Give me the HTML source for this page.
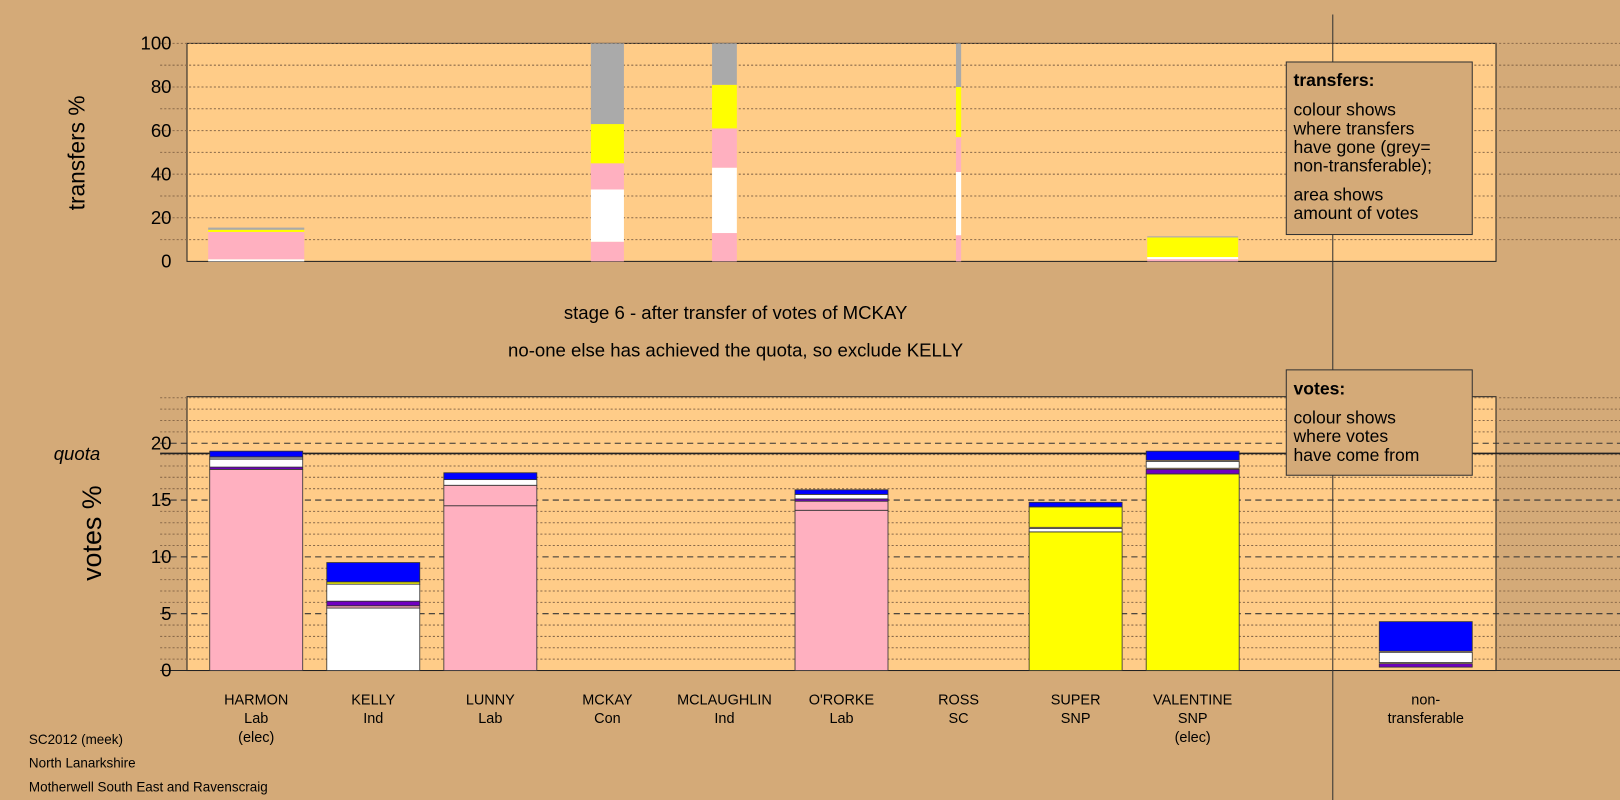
<!DOCTYPE html>
<html><head><meta charset="utf-8"><style>
body{margin:0;background:#d4aa78;}
svg{display:block;font-family:"Liberation Sans",sans-serif;}
</style></head><body>
<svg id="c" width="1620" height="800" viewBox="0 0 1620 800">
<rect x="0" y="0" width="1620" height="800" fill="#d4aa78"/>
<g transform="scale(1.03316)">
<rect x="181" y="42" width="1267" height="211" fill="#ffcc88" stroke="#222"/>
<rect x="181" y="384" width="1267" height="265" fill="#ffcc88" stroke="#222"/>
<g id="grid"></g>
<g id="bars"></g>
<line x1="1290" y1="14" x2="1290" y2="800" stroke="#333"/>
<text x="82" y="148" font-size="22" transform="rotate(-90 82 148)" text-anchor="middle">transfers %</text>
<text x="98" y="516" font-size="26" transform="rotate(-90 98 516)" text-anchor="middle">votes %</text>
<text x="52" y="445" font-size="18" font-style="italic">quota</text>
<text x="712" y="309" font-size="18" text-anchor="middle">stage 6 - after transfer of votes of MCKAY</text>
<text x="712" y="345" font-size="18" text-anchor="middle">no-one else has achieved the quota, so exclude KELLY</text>
<g>
<rect x="1245" y="60" width="180" height="167" fill="#d4aa78" stroke="#333"/>
<text x="1252" y="83" font-size="17" font-weight="bold">transfers:</text>
<text font-size="17"><tspan x="1252" y="112">colour shows</tspan><tspan x="1252" y="130">where transfers</tspan><tspan x="1252" y="148">have gone (grey=</tspan><tspan x="1252" y="166">non-transferable);</tspan><tspan x="1252" y="194">area shows</tspan><tspan x="1252" y="212">amount of votes</tspan></text>
</g>
<g>
<rect x="1245" y="358" width="180" height="102" fill="#d4aa78" stroke="#333"/>
<text x="1252" y="382" font-size="17" font-weight="bold">votes:</text>
<text font-size="17"><tspan x="1252" y="410">colour shows</tspan><tspan x="1252" y="428">where votes</tspan><tspan x="1252" y="446">have come from</tspan></text>
</g>
<g font-size="13">
<text x="28" y="720">SC2012 (meek)</text><text x="28" y="743">North Lanarkshire</text><text x="28" y="766">Motherwell South East and Ravenscraig</text>
</g>
</g>
</svg>
<script>
const candidates=["HARMON","KELLY","LUNNY","MCKAY","MCLAUGHLIN","O'RORKE","ROSS","SUPER","VALENTINE","non-"];
const parties=["Lab","Ind","Lab","Con","Ind","Lab","SC","SNP","SNP","transferable"];
const notes=["(elec)","","","","","","","","(elec)",""];
const topTicks=[0,20,40,60,80,100];
const botTicks=[0,5,10,15,20];
const quota=19.1;
const transferWidth=[93,0,0,32,24,0,5,0,88,0];
const transferSegs=[
 [["#fff",0,1],["#ffb0c0",1,13.5],["#ffff00",13.5,14.5],["#aaa",14.5,15.5]],
 [],[],
 [["#ffb0c0",0,9],["#fff",9,33],["#ffb0c0",33,45],["#ffff00",45,63],["#aaa",63,100]],
 [["#ffb0c0",0,13],["#fff",13,43],["#ffb0c0",43,61],["#ffff00",61,81],["#aaa",81,100]],
 [],
 [["#ffb0c0",0,12],["#fff",12,41],["#ffb0c0",41,57],["#ffff00",57,80],["#aaa",80,100]],
 [],
 [["#ffb0c0",0,1],["#fff",1,2],["#ffff00",2,11],["#aaa",11,11.5]],
 []];
const voteSegs=[
 [["#ffb0c0",0,17.7],["#7000c0",17.7,17.9],["#fff",17.9,18.6],["#aaa",18.6,18.8],["#0000ff",18.8,19.3]],
 [["#fff",0,5.5],["#ffb0c0",5.5,5.7],["#7000c0",5.7,6.1],["#fff",6.1,7.6],["#ffff00",7.6,7.8],["#0000ff",7.8,9.5]],
 [["#ffb0c0",0,14.5],["#ffb0c0",14.5,16.3],["#fff",16.3,16.8],["#0000ff",16.8,17.4]],
 [],[],
 [["#ffb0c0",0,14.1],["#ffb0c0",14.1,14.9],["#7000c0",14.9,15.1],["#fff",15.1,15.5],["#0000ff",15.5,15.9]],
 [],
 [["#ffff00",0,12.2],["#fff",12.2,12.5],["#ffff00",12.6,14.4],["#0000ff",14.4,14.8]],
 [["#ffff00",0,17.3],["#7000c0",17.3,17.7],["#fff",17.8,18.4],["#0000ff",18.5,19.3]],
 [["#7000c0",0.3,0.6],["#fff",0.7,1.6],["#0000ff",1.7,4.3]]];
const NS="http://www.w3.org/2000/svg";
const yT=v=>253-v*2.11, yB=v=>649-v*11;
const xC=i=>i<9?248+i*113.3:1380;
function mk(t,a,p){const e=document.createElementNS(NS,t);for(const k in a)e.setAttribute(k,a[k]);p.appendChild(e);return e;}
const grid=document.getElementById('grid'),bars=document.getElementById('bars');
for(let v=10;v<=100;v+=10){const l=mk('line',{x1:155,x2:1620,y1:yT(v),y2:yT(v),stroke:'#8a6a4a','stroke-dasharray':'2,2'},grid);
}
for(let v=1;v<=24;v++){const d=v%5==0;const l=mk('line',{x1:155,x2:1620,y1:yB(v),y2:yB(v),stroke:d?'#333':'#8a6a4a','stroke-dasharray':d?'6,4':'2,2'},grid);
}
const q=mk('line',{x1:155,x2:1620,y1:yB(quota),y2:yB(quota),stroke:'#222','stroke-width':1.5},grid);

mk('line',{x1:155,x2:1620,y1:649,y2:649,stroke:'#222'},grid);
topTicks.forEach(v=>{const t=mk('text',{x:166,y:yT(v)+6,'font-size':18,'text-anchor':'end'},grid);t.textContent=v;
});
botTicks.forEach(v=>{const t=mk('text',{x:166,y:yB(v)+6,'font-size':18,'text-anchor':'end'},grid);t.textContent=v;
});
candidates.forEach((c,i)=>{
 const cx=xC(i),w=transferWidth[i];
 transferSegs[i].forEach(s=>{const r=mk('rect',{x:cx-w/2,y:yT(s[2]),width:w,height:yT(s[1])-yT(s[2]),fill:s[0]},bars);
  });
 voteSegs[i].forEach(s=>{const r=mk('rect',{x:cx-45,y:yB(s[2]),width:90,height:yB(s[1])-yB(s[2]),fill:s[0],stroke:'#333','stroke-width':0.8},bars);
  });
 [c,parties[i],notes[i]].forEach((s,k)=>{if(!s)return;const t=mk('text',{x:cx,y:682+k*18,'font-size':14,'text-anchor':'middle'},bars);t.textContent=s;
  });
});
</script>
</body></html>
